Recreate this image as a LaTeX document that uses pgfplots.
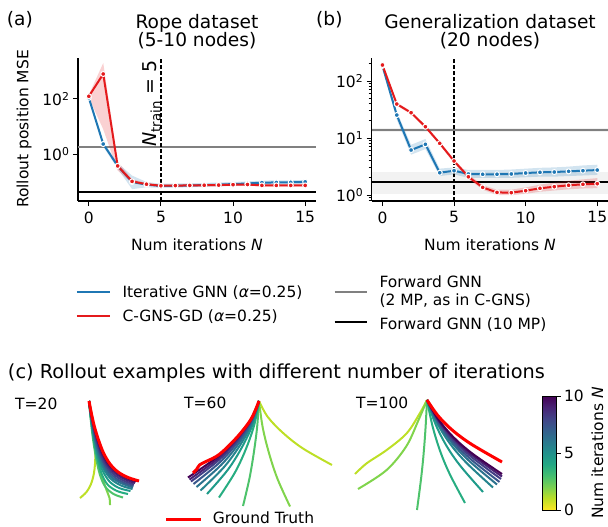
\documentclass[border=0pt]{standalone}
\usepackage{fontspec}
\setmainfont{DejaVu Sans}
\usepackage{pgfplots}
\pgfplotsset{compat=1.18}
\definecolor{cblue}{RGB}{31,119,180}
\definecolor{cred}{RGB}{228,26,28}
\definecolor{cgray}{RGB}{128,128,128}
\definecolor{lband}{RGB}{242,242,242}
\definecolor{gt}{RGB}{255,0,0}
\definecolor{v0}{RGB}{189,223,38}
\definecolor{v1}{RGB}{128,212,76}
\definecolor{v2}{RGB}{78,195,107}
\definecolor{v3}{RGB}{39,173,129}
\definecolor{v4}{RGB}{31,155,138}
\definecolor{v5}{RGB}{37,132,142}
\definecolor{v6}{RGB}{44,114,142}
\definecolor{v7}{RGB}{57,87,140}
\definecolor{v8}{RGB}{67,62,133}
\definecolor{v9}{RGB}{72,33,114}
\definecolor{v10}{RGB}{68,1,84}
\newcommand\fs{\fontsize{15.5}{18.6}\selectfont}
\newcommand\ft{\fontsize{18.6}{22}\selectfont}
\pgfplotsset{colormap={viridisr}{rgb255=(253,231,37) rgb255=(189,223,38) rgb255=(122,209,81) rgb255=(68,191,112) rgb255=(34,168,132) rgb255=(33,145,140) rgb255=(42,120,142) rgb255=(53,95,141) rgb255=(65,68,135) rgb255=(72,36,117) rgb255=(68,1,84)}}
\pgfplotsset{
 panel/.style={scale only axis, height=143pt, xmin=-0.75, xmax=15.75,
   xtick={0,5,10,15}, xticklabels={0,5,10,15},
   axis x line*=bottom, axis y line*=left, tick align=outside,
   major tick length=5pt, minor tick length=3pt,
   every tick/.style={black, line width=1pt},
   axis line style={line width=1.1pt},
   tick label style={font=\fs}, xticklabel style={yshift=-2pt}, clip=false},
 bl/.style={cblue, line width=2pt, mark=*, mark size=2.5pt, mark options={fill=cblue, draw=white, line width=1pt, solid}},
 rd/.style={cred, line width=2pt, mark=*, mark size=2.5pt, mark options={fill=cred, draw=white, line width=1pt, solid}},
 bband/.style={draw=none, fill=cblue, fill opacity=0.2, forget plot},
 rband/.style={draw=none, fill=cred, fill opacity=0.2, forget plot},
 rope/.style={line width=2pt, smooth, tension=0.55, forget plot},
}
\begin{document}
\begin{tikzpicture}
\path[use as bounding box] (0pt,0pt) rectangle (608pt,-527pt);

% ---------------- panel (a)
\begin{axis}[ymode=log, panel, at={(78pt,-201pt)}, anchor=south west, width=238pt,
  ymin=0.0205, ymax=3030, ytick={1,100}, yticklabels={10\textsuperscript{0},10\textsuperscript{2}}]
\addplot[cgray, line width=2pt, forget plot] coordinates {(-0.75,1.84) (15.75,1.84)};
\addplot[black, line width=2pt, forget plot] coordinates {(-0.75,0.042) (15.75,0.042)};
\addplot[bband] coordinates {(0,130) (1,2.9) (2,0.48) (3,0.17) (4,0.10) (5,0.086) (6,0.088) (7,0.090) (8,0.092) (9,0.096) (10,0.100) (11,0.105) (12,0.112) (13,0.114) (14,0.115) (15,0.118)
 (15,0.086) (14,0.083) (13,0.082) (12,0.081) (11,0.076) (10,0.072) (9,0.069) (8,0.066) (7,0.064) (6,0.062) (5,0.061) (4,0.064) (3,0.055) (2,0.30) (1,1.9) (0,95)} -- cycle;
\addplot[rband] coordinates {(0,140) (1,2000) (2,0.55) (3,0.125) (4,0.092) (5,0.080) (6,0.081) (7,0.082) (8,0.083) (9,0.084) (10,0.087) (11,0.088) (12,0.082) (13,0.082) (14,0.082) (15,0.082)
 (15,0.068) (14,0.068) (13,0.068) (12,0.068) (11,0.074) (10,0.073) (9,0.070) (8,0.069) (7,0.068) (6,0.067) (5,0.066) (4,0.075) (3,0.09) (2,0.26) (1,8) (0,112)} -- cycle;
\addplot[bl] coordinates {(0,110) (1,2.35) (2,0.38) (3,0.10) (4,0.080) (5,0.072) (6,0.073) (7,0.075) (8,0.077) (9,0.080) (10,0.084) (11,0.088) (12,0.095) (13,0.096) (14,0.097) (15,0.101)};
\addplot[rd] coordinates {(0,125) (1,800) (2,0.38) (3,0.105) (4,0.083) (5,0.073) (6,0.074) (7,0.075) (8,0.076) (9,0.077) (10,0.080) (11,0.081) (12,0.075) (13,0.075) (14,0.075) (15,0.075)};
\addplot[black, line width=1.2pt, dash pattern=on 4pt off 2pt, forget plot] coordinates {(5,0.0205) (5,3030)};
\end{axis}

% ---------------- panel (b)
\begin{axis}[ymode=log, panel, at={(371.7pt,-201pt)}, anchor=south west, width=236.3pt,
  ymin=0.785, ymax=253.5, ytick={1,10,100}, yticklabels={10\textsuperscript{0},10\textsuperscript{1},10\textsuperscript{2}},
  minor ytick={0.8,0.9,2,3,4,5,6,7,8,9,20,30,40,50,60,70,80,90,200}]
\addplot[draw=none, fill=lband, forget plot] coordinates {(-0.75,1.04) (15.75,1.04) (15.75,2.57) (-0.75,2.57)} -- cycle;
\addplot[draw=none, fill=lband, forget plot] coordinates {(-0.75,12.6) (15.75,12.6) (15.75,15.2) (-0.75,15.2)} -- cycle;
\addplot[cgray, line width=2pt, forget plot] coordinates {(-0.75,13.8) (15.75,13.8)};
\addplot[black, line width=2pt, forget plot] coordinates {(-0.75,1.66) (15.75,1.66)};
\addplot[bband] coordinates {(0,200) (1,29) (2,7.6) (3,9.6) (4,2.9) (5,3.05) (6,2.75) (7,2.75) (8,2.75) (9,2.8) (10,2.9) (11,3.0) (12,3.05) (13,3.15) (14,3.3) (15,3.4)
 (15,2.25) (14,2.2) (13,2.15) (12,2.1) (11,2.1) (10,2.05) (9,2.0) (8,2.0) (7,2.0) (6,2.0) (5,2.3) (4,2.15) (3,6.4) (2,5.1) (1,21) (0,172)} -- cycle;
\addplot[rband] coordinates {(0,200) (1,42) (2,29.5) (3,16.8) (4,8.6) (5,4.25) (6,2.3) (7,1.5) (8,1.24) (9,1.24) (10,1.36) (11,1.52) (12,1.65) (13,1.78) (14,1.88) (15,1.98)
 (15,1.32) (14,1.3) (13,1.26) (12,1.2) (11,1.14) (10,1.05) (9,0.99) (8,1.0) (7,1.24) (6,1.92) (5,3.65) (4,7.5) (3,14.8) (2,26) (1,37) (0,182)} -- cycle;
\addplot[bl] coordinates {(0,185) (1,25.3) (2,6.15) (3,7.75) (4,2.46) (5,2.67) (6,2.34) (7,2.31) (8,2.31) (9,2.34) (10,2.43) (11,2.50) (12,2.53) (13,2.60) (14,2.67) (15,2.74)};
\addplot[rd] coordinates {(0,191) (1,39.5) (2,27.8) (3,15.8) (4,8.07) (5,3.95) (6,2.09) (7,1.36) (8,1.11) (9,1.10) (10,1.19) (11,1.31) (12,1.40) (13,1.48) (14,1.54) (15,1.58)};
\addplot[black, line width=1.2pt, dash pattern=on 4pt off 2pt, forget plot] coordinates {(5,0.785) (5,253.5)};
\end{axis}

% ---------------- panel (c) rollouts
\begin{axis}[at={(0pt,-527pt)}, anchor=south west, scale only axis, width=608pt, height=147pt,
  xmin=0, xmax=608, ymin=380, ymax=527, y dir=reverse, hide axis, clip=false]
% T=20
\addplot[rope, v0] coordinates {(89,401) (91.5,414) (93,427) (94.5,440) (95.3,453) (95,464) (93.8,474) (91,484) (86.5,492) (80,498)};
\addplot[rope, v1] coordinates {(89,401) (91,417) (93.3,433) (96,449) (99,464) (102.5,478) (106.5,490) (109.5,498) (110,505)};
\addplot[rope, v2] coordinates {(89,401) (90.5,417) (92.2,433) (94.4,448.5) (97,463) (100.5,476.5) (105.5,487) (113.5,494) (123,497.5)};
\addplot[rope, v3] coordinates {(89,401) (90.6,416.5) (92.4,431.5) (94.8,446.5) (97.8,460.5) (101.5,473.5) (107.5,484.5) (117,491) (128,494)};
\addplot[rope, v4] coordinates {(89,401) (90.7,416) (92.7,430.5) (95.2,445) (98.4,458.5) (102.8,471) (109.5,481.5) (119,488) (130.5,491)};
\addplot[rope, v5] coordinates {(89,401) (90.8,415.5) (93,429.5) (95.6,443.5) (99,457) (103.8,469) (111,479) (121,485.5) (132.5,489)};
\addplot[rope, v6] coordinates {(89,401) (90.9,415) (93.2,429) (96,443) (99.5,456) (104.5,467.5) (112,477.5) (122,483.5) (133,487.5)};
\addplot[rope, v7] coordinates {(89,401) (91,415) (93.5,428.5) (96.5,442) (100.3,455) (105.5,466.5) (113,476) (122.5,482) (133.5,486)};
\addplot[rope, v8] coordinates {(89,401) (91.1,414.5) (93.7,428) (97,441.5) (101,454.5) (106.5,465.5) (114,474.5) (123.5,480.5) (134,484.5)};
\addplot[rope, v9] coordinates {(89,401) (91.2,414) (94,427.5) (97.5,441) (101.8,453.5) (107.5,464.5) (115,473) (124.5,479) (135,483)};
\addplot[rope, v10] coordinates {(89,401) (91.3,414) (94.2,427) (98,440) (102.5,452.5) (108.5,463.5) (116,471.5) (125.5,477.5) (136,481.5)};
\addplot[rope, gt, line width=3pt] coordinates {(89,401) (91.5,414) (94.5,427) (98.5,440) (103.5,453) (110,464) (118,472) (128,477.5) (139,481)};
% T=60
\addplot[rope, v0] coordinates {(259,401) (267.8,417) (283.1,433) (302.8,448.4) (332,465)};
\addplot[rope, v1] coordinates {(259,401) (262.7,427.4) (269.2,453.8) (277.6,479.1) (290,506.5)};
\addplot[rope, v2] coordinates {(259,401) (257.1,427.3) (253.7,453.5) (249.4,478.7) (243,506)};
\addplot[rope, v3] coordinates {(259,401) (254.2,425.1) (245.8,449.3) (235,472.4) (219,497.5)};
\addplot[rope, v4] coordinates {(259,401) (252.8,424.3) (241.8,447.5) (227.8,469.8) (207,494)};
\addplot[rope, v5] coordinates {(259,401) (252,423.4) (239.7,445.8) (223.9,467.2) (200.5,490.5)};
\addplot[rope, v6] coordinates {(259,401) (251.5,422.5) (238.4,444) (221.5,464.6) (196.5,487)};
\addplot[rope, v7] coordinates {(259,401) (251.1,421.8) (237.4,442.5) (219.7,462.4) (193.5,484)};
\addplot[rope, v8] coordinates {(259,401) (250.8,421.1) (236.6,441.3) (218.2,460.6) (191,481.5)};
\addplot[rope, v9] coordinates {(259,401) (250.7,420.6) (236.1,440.3) (217.3,459.1) (189.5,479.5)};
\addplot[rope, v10] coordinates {(259,401) (250.5,420.1) (235.6,439.3) (216.4,457.6) (188,477.5)};
\addplot[rope, gt, line width=3pt] coordinates {(259,401) (251.1,419) (237.2,437) (219.4,454.3) (205,462) (199.5,465) (196.5,469.5) (193,473)};
% T=100
\addplot[rope, v0] coordinates {(427,400) (419.8,413.3) (406.7,433.3) (386.7,450) (366.7,463.3) (355,474)};
\addplot[rope, v1] coordinates {(427,400) (418.7,419.6) (406.3,446.3) (386.3,470.3) (358,489)};
\addplot[rope, v2] coordinates {(427,400) (425.5,428.6) (423.5,455) (421,479.2) (417,510)};
\addplot[rope, v3] coordinates {(427,400) (432.7,426.8) (440.3,451.5) (449.8,474.2) (465,503)};
\addplot[rope, v4] coordinates {(427,400) (435.4,423.9) (446.6,446) (460.6,466.2) (483,492)};
\addplot[rope, v5] coordinates {(427,400) (436.9,422.8) (450.1,443.8) (466.6,463) (493,487.5)};
\addplot[rope, v6] coordinates {(427,400) (437.5,422) (451.5,442.3) (469,460.8) (497,484.5)};
\addplot[rope, v7] coordinates {(427,400) (437.9,421.3) (452.4,441) (470.5,459) (499.5,482)};
\addplot[rope, v8] coordinates {(427,400) (438.1,420.5) (452.9,439.5) (471.4,456.9) (501,479)};
\addplot[rope, v9] coordinates {(427,400) (438.3,419.9) (453.3,438.3) (472,455.1) (502,476.5)};
\addplot[rope, v10] coordinates {(427,400) (438.3,419.2) (453.3,437) (472,453.3) (502,474)};
\addplot[rope, gt, line width=3pt] coordinates {(427,400) (438.3,416.1) (453.3,431) (472,444.6) (502,462)};
\end{axis}

% ---------------- colorbar
\begin{axis}[at={(542.3pt,-510pt)}, anchor=south west, scale only axis, width=13.7pt, height=114pt,
  xmin=0, xmax=1, ymin=0, ymax=10, xtick=\empty, ytick={0,5,10}, yticklabels={0,5,10},
  ytick pos=right, yticklabel pos=right, tick align=outside, major tick length=4.5pt,
  every tick/.style={black, line width=1pt}, axis line style={line width=0.9pt},
  tick label style={font=\fs}, colormap name=viridisr, axis on top, enlargelimits=false]
\addplot[surf, shader=interp, point meta=y, mesh/cols=2] coordinates {(0,0) (1,0) (0,10) (1,10)};
\end{axis}

% ---------------- texts
\node[font=\ft, anchor=base west, inner sep=0pt] at (6.7pt,-26pt) {(a)};
\node[font=\ft, anchor=base west, inner sep=0pt] at (316pt,-26pt) {(b)};
\node[font=\ft, anchor=base, inner sep=0pt] at (197pt,-28.3pt) {Rope dataset};
\node[font=\ft, anchor=base, inner sep=0pt] at (197pt,-46.7pt) {(5-10 nodes)};
\node[font=\ft, anchor=base, inner sep=0pt] at (490pt,-28.3pt) {Generalization dataset};
\node[font=\ft, anchor=base, inner sep=0pt] at (490pt,-46.7pt) {(20 nodes)};
\node[font=\fs, anchor=base, rotate=90, inner sep=0pt] at (28.3pt,-129pt) {Rollout position MSE};
\node[font=\fs, anchor=base, inner sep=0pt] at (197pt,-250pt) {Num iterations \textit{N}};
\node[font=\fs, anchor=base, inner sep=0pt] at (490pt,-250pt) {Num iterations \textit{N}};
\node[font=\fontsize{19}{22}\selectfont, anchor=base west, rotate=90, inner sep=0pt] at (156.5pt,-146.7pt) {\textit{N}\textsubscript{train} = 5};
% legend
\draw[cblue, line width=2pt] (76.9pt,-291.7pt) -- (109.9pt,-291.7pt);
\draw[cred, line width=2pt] (76.9pt,-316pt) -- (109.9pt,-316pt);
\draw[cgray, line width=2pt] (334.6pt,-292.3pt) -- (366.9pt,-292.3pt);
\draw[black, line width=2pt] (334.6pt,-321.7pt) -- (366.9pt,-321.7pt);
\node[font=\fs, anchor=base west, inner sep=0pt] at (122.3pt,-297.3pt) {Iterative GNN (\textit{α}=0.25)};
\node[font=\fs, anchor=base west, inner sep=0pt] at (122.3pt,-321.6pt) {C-GNS-GD (\textit{α}=0.25)};
\node[font=\fs, anchor=base west, inner sep=0pt] at (379.3pt,-287pt) {Forward GNN};
\node[font=\fs, anchor=base west, inner sep=0pt] at (379.3pt,-305.5pt) {(2 MP, as in C-GNS)};
\node[font=\fs, anchor=base west, inner sep=0pt] at (379.3pt,-329pt) {Forward GNN (10 MP)};
% panel c texts
\node[font=\fontsize{19.3}{23}\selectfont, anchor=base west, inner sep=0pt] at (7.8pt,-378pt) {(c) Rollout examples with different number of iterations};
\node[font=\fs, anchor=base west, inner sep=0pt] at (15pt,-409.3pt) {T=20};
\node[font=\fs, anchor=base west, inner sep=0pt] at (184pt,-408.3pt) {T=60};
\node[font=\fs, anchor=base west, inner sep=0pt] at (356pt,-408.3pt) {T=100};
\draw[gt, line width=3pt] (166pt,-519pt) -- (200.7pt,-519pt);
\node[font=\fs, anchor=base west, inner sep=0pt] at (212.7pt,-523.8pt) {Ground Truth};
\node[font=\fs, anchor=base, rotate=90, inner sep=0pt] at (603pt,-453pt) {Num iterations \textit{N}};
\end{tikzpicture}
\end{document}
